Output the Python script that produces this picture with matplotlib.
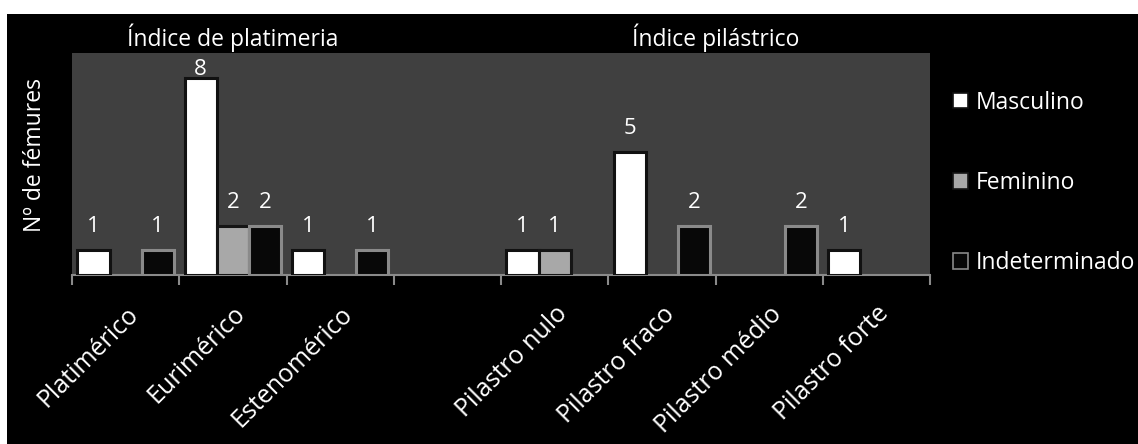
import numpy as np
import matplotlib
matplotlib.use("Agg")
import matplotlib.pyplot as plt
from matplotlib.patches import Rectangle

plt.rcParams['font.family'] = ['Open Sans', 'DejaVu Sans']

categories = ["Platimérico", "Eurimérico", "Estenomérico", "",
              "Pilastro nulo", "Pilastro fraco", "Pilastro médio", "Pilastro forte"]
masculino = [1, 8, 1, 0, 1, 5, 0, 1]
feminino = [0, 2, 0, 0, 1, 0, 0, 0]
indeterminado = [1, 2, 1, 0, 0, 2, 2, 0]
series_names = ["Masculino", "Feminino", "Indeterminado"]
group_titles = ["Índice de platimeria", "Índice pilástrico"]
ylabel = "Nº de fémures"

W, H = 1138, 444
FS = 16.5
fig = plt.figure(figsize=(W / 100, H / 100), dpi=100)
fig.patch.set_facecolor("white")
fig.patches.append(Rectangle((7 / W, 0), 1 - 7 / W, 1 - 14 / H,
                             transform=fig.transFigure, facecolor="black",
                             edgecolor="none", zorder=-10))

ax = fig.add_axes([72 / W, 1 - 275 / H, (930 - 72) / W, (275 - 53) / H])
ax.set_facecolor("#404040")
x = np.arange(len(categories))
bw = 0.3
styles = [
    dict(facecolor="white", edgecolor="#111111"),
    dict(facecolor="#a8a8a8", edgecolor="#151515"),
    dict(facecolor="#080808", edgecolor="#8a8a8a"),
]
for i, (vals, st) in enumerate(zip([masculino, feminino, indeterminado], styles)):
    pos = x + (i - 1) * bw
    v = np.array(vals, dtype=float)
    keep = v > 0
    ax.bar(pos[keep], v[keep], width=bw, linewidth=2.2, zorder=3,
           label=series_names[i], **st)
    for p, val in zip(pos[keep], v[keep]):
        ax.text(p, min(val + 0.73, 8.12), f"{int(val)}", ha="center", va="baseline",
                color="white", fontsize=16, zorder=4)

ax.set_xlim(-0.5, len(categories) - 0.5)
ax.set_ylim(0, 9)
ax.set_yticks([])
for s in ["top", "right", "left"]:
    ax.spines[s].set_visible(False)
ax.spines["bottom"].set_color("#8a8a8a")
ax.spines["bottom"].set_linewidth(1.5)
ax.set_xticks(x)
ax.set_xticklabels(categories, rotation=45, ha="right", rotation_mode="anchor",
                   color="white", fontsize=18)
ax.tick_params(axis="x", which="major", length=0, pad=19)
ax.set_xticks(np.arange(-0.5, len(categories), 1), minor=True)
ax.tick_params(axis="x", which="minor", length=7, width=1.5, color="#8a8a8a")

ax.text(1, 1.0 + 1 / (275 - 53), group_titles[0], transform=ax.get_xaxis_transform(),
        ha="center", va="bottom", color="white", fontsize=FS)
ax.text(5.5, 1.0 + 1 / (275 - 53), group_titles[1], transform=ax.get_xaxis_transform(),
        ha="center", va="bottom", color="white", fontsize=FS)

fig.text(35 / W, 1 - 155 / H, ylabel, rotation=90, ha="center", va="center",
         color="white", fontsize=FS)

leg = fig.legend(loc="center left", bbox_to_anchor=(932 / W, 1 - 183 / H),
                 frameon=False, labelcolor="white", fontsize=FS,
                 handlelength=0.65, handleheight=0.65, handletextpad=0.35,
                 labelspacing=2.45)
for h in leg.legend_handles:
    h.set_linewidth(1.2)

fig.savefig("out.png", dpi=100, facecolor=fig.get_facecolor())
